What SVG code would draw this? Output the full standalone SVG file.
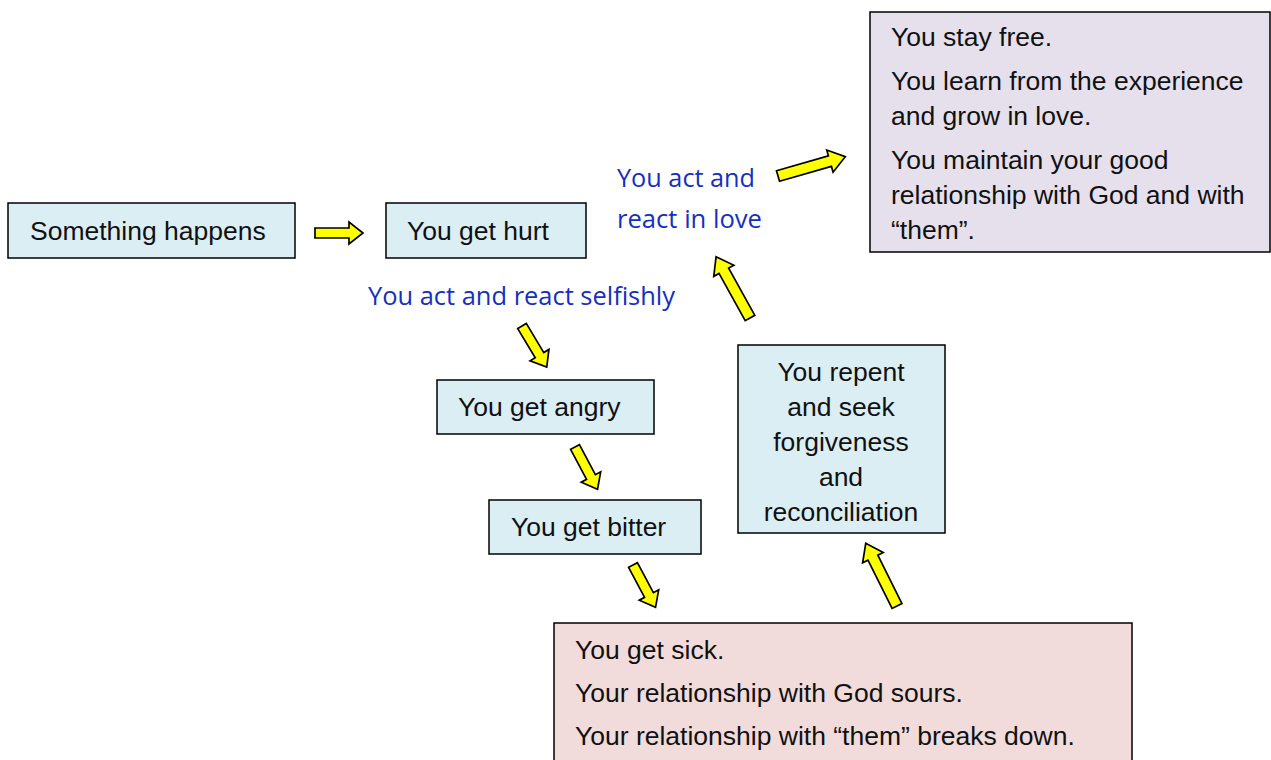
<svg xmlns="http://www.w3.org/2000/svg" xmlns:xlink="http://www.w3.org/1999/xlink" width="1271" height="760" viewBox="0 0 1271 760">
<style>
.box{stroke:#000;stroke-width:1.5}
.blue{fill:#dbeef4}
.purple{fill:#e5e0ec}
.pink{fill:#f2dcdb}
.t{font-family:"Liberation Sans",Arial,sans-serif;font-size:26.5px;fill:#111}
.lbl{font-family:"Open Sans","Noto Sans",sans-serif;font-size:26px;fill:#1530c0}
.arr{fill:#ffff00;stroke:#000;stroke-width:1.7;stroke-linejoin:miter}
</style>
<defs>
<path id="aS" d="M0,-5 H34 V-11 L48,0 L34,11 V5 H0 Z"/>
<path id="aL" d="M0,-5.5 H54 V-11.5 L70,0 L54,11.5 V5.5 H0 Z"/>
</defs>
<rect width="1271" height="760" fill="#fff"/>
<g id="connectors">
<use xlink:href="#aS" class="arr" transform="translate(315,233)"/>
<use xlink:href="#aS" class="arr" transform="translate(522,326) rotate(59)"/>
<use xlink:href="#aS" class="arr" transform="translate(575,447) rotate(62)"/>
<use xlink:href="#aS" class="arr" transform="translate(633,565) rotate(62)"/>
<use xlink:href="#aL" class="arr" transform="translate(897,606) rotate(243.5)"/>
<use xlink:href="#aL" class="arr" transform="translate(750,318) rotate(241)"/>
<use xlink:href="#aL" class="arr" transform="translate(778,176) rotate(-16)"/>
</g>
<g id="something-happens">
<rect class="box blue" x="8" y="203" width="287" height="55"/>
<text class="t" x="30" y="240">Something happens</text>
</g>
<g id="you-get-hurt">
<rect class="box blue" x="386" y="203" width="200" height="55"/>
<text class="t" x="407" y="240">You get hurt</text>
</g>
<g id="label-selfishly">
<text class="lbl" x="368" y="305" textLength="307" lengthAdjust="spacingAndGlyphs">You act and react selfishly</text>
</g>
<g id="label-love">
<text class="lbl" x="617" y="187" textLength="138" lengthAdjust="spacingAndGlyphs">You act and</text>
<text class="lbl" x="617" y="228" textLength="145" lengthAdjust="spacingAndGlyphs">react in love</text>
</g>
<g id="you-get-angry">
<rect class="box blue" x="437" y="380" width="217" height="54"/>
<text class="t" x="458" y="416">You get angry</text>
</g>
<g id="you-get-bitter">
<rect class="box blue" x="489" y="500" width="212" height="54"/>
<text class="t" x="511" y="536">You get bitter</text>
</g>
<g id="you-repent">
<rect class="box blue" x="738" y="345" width="207" height="188"/>
<text class="t" text-anchor="middle" x="841" y="381">You repent</text>
<text class="t" text-anchor="middle" x="841" y="416">and seek</text>
<text class="t" text-anchor="middle" x="841" y="451">forgiveness</text>
<text class="t" text-anchor="middle" x="841" y="486">and</text>
<text class="t" text-anchor="middle" x="841" y="521">reconciliation</text>
</g>
<g id="stay-free">
<rect class="box purple" x="870" y="12" width="400" height="240"/>
<text class="t" x="891" y="46">You stay free.</text>
<text class="t" x="891" y="90">You learn from the experience</text>
<text class="t" x="891" y="125">and grow in love.</text>
<text class="t" x="891" y="169">You maintain your good</text>
<text class="t" x="891" y="204">relationship with God and with</text>
<text class="t" x="891" y="239">“them”.</text>
</g>
<g id="get-sick">
<rect class="box pink" x="554" y="623" width="578" height="150"/>
<text class="t" x="575" y="659">You get sick.</text>
<text class="t" x="575" y="702">Your relationship with God sours.</text>
<text class="t" x="575" y="745">Your relationship with “them” breaks down.</text>
</g>
</svg>
